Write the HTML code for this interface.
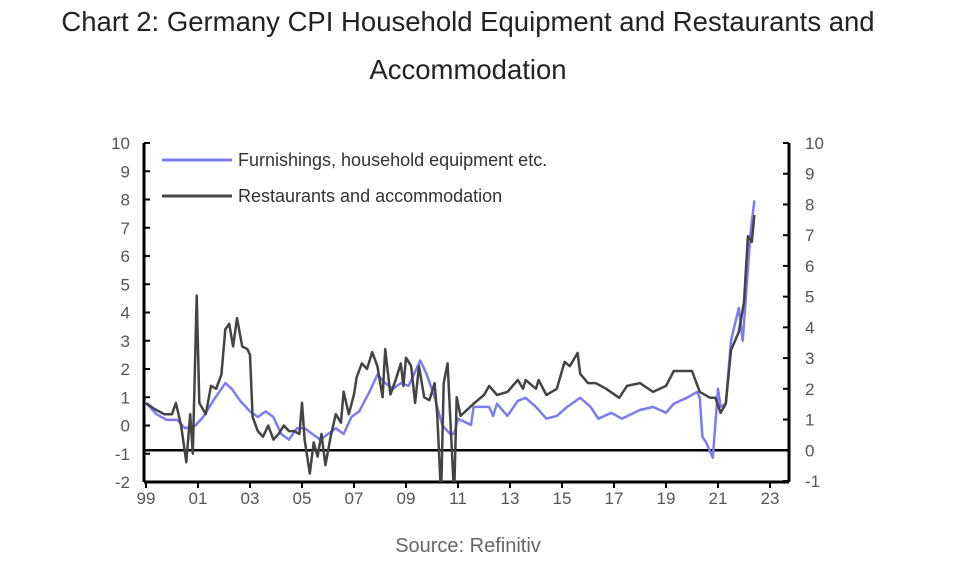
<!DOCTYPE html>
<html><head><meta charset="utf-8"><style>
body{margin:0;background:#fff;width:959px;height:561px;overflow:hidden;font-family:"Liberation Sans",sans-serif}
</style></head><body>
<svg width="959" height="561" xmlns="http://www.w3.org/2000/svg">
<text x="468" y="31" text-anchor="middle" font-size="27.5" fill="#222" font-family="Liberation Sans, sans-serif">Chart 2: Germany CPI Household Equipment and Restaurants and</text>
<text x="468" y="79" text-anchor="middle" font-size="27.5" fill="#222" font-family="Liberation Sans, sans-serif">Accommodation</text>
<g id="axes"></g>
<g id="series"></g>
<g>
<line x1="162" y1="160" x2="232" y2="160" stroke="#7b7bf5" stroke-width="3"/>
<text x="238" y="166" font-size="18" fill="#333">Furnishings, household equipment etc.</text>
<line x1="162" y1="196" x2="232" y2="196" stroke="#444" stroke-width="3"/>
<text x="238" y="202" font-size="18" fill="#333">Restaurants and accommodation</text>
</g>
<text x="468" y="552" text-anchor="middle" font-size="20" fill="#666">Source: Refinitiv</text>
</svg>
<script>
const leftTicks=[-2,-1,0,1,2,3,4,5,6,7,8,9,10];
const rightTicks=[-1,0,1,2,3,4,5,6,7,8,9,10];
const yearLabels=["99","01","03","05","07","09","11","13","15","17","19","21","23"];
const furnDates=[1999.0,1999.4,1999.8,2000.2,2000.5,2000.9,2001.2,2001.6,2001.9,2002.05,2002.3,2002.6,2003.0,2003.3,2003.6,2003.9,2004.2,2004.5,2004.8,2005.1,2005.4,2005.7,2006.0,2006.3,2006.6,2006.9,2007.2,2007.6,2007.9,2008.2,2008.5,2008.8,2009.1,2009.4,2009.55,2009.8,2010.1,2010.4,2010.7,2010.85,2011.0,2011.5,2011.6,2012.2,2012.35,2012.5,2012.9,2013.3,2013.6,2014.0,2014.4,2014.8,2015.2,2015.7,2016.1,2016.4,2016.9,2017.3,2018.0,2018.5,2019.0,2019.3,2019.8,2020.2,2020.3,2020.4,2020.55,2020.8,2021.0,2021.1,2021.3,2021.5,2021.8,2021.95,2022.1,2022.25,2022.4];
const furnValues=[0.8,0.4,0.2,0.2,-0.1,0.0,0.3,0.9,1.3,1.5,1.3,0.9,0.5,0.3,0.5,0.3,-0.3,-0.5,-0.1,-0.1,-0.3,-0.5,-0.3,-0.1,-0.3,0.3,0.5,1.2,1.8,1.5,1.3,1.5,1.4,2.0,2.3,1.8,1.0,0.0,-0.3,-0.29,0.24,0.02,0.66,0.66,0.34,0.77,0.34,0.87,0.98,0.66,0.24,0.34,0.66,0.98,0.66,0.24,0.45,0.24,0.55,0.66,0.45,0.77,0.98,1.19,0.98,-0.4,-0.61,-1.14,1.3,0.66,0.77,3.0,4.16,3.0,4.9,6.8,7.97];
const restDates=[1999.0,1999.3,1999.7,2000.0,2000.15,2000.35,2000.55,2000.7,2000.8,2000.95,2001.05,2001.3,2001.5,2001.7,2001.9,2002.05,2002.2,2002.35,2002.5,2002.7,2002.9,2003.0,2003.1,2003.3,2003.5,2003.7,2003.9,2004.1,2004.3,2004.5,2004.7,2004.9,2005.0,2005.1,2005.3,2005.45,2005.6,2005.75,2005.9,2006.1,2006.3,2006.5,2006.6,2006.8,2007.0,2007.1,2007.3,2007.5,2007.7,2007.9,2008.1,2008.2,2008.4,2008.6,2008.8,2008.9,2009.0,2009.2,2009.35,2009.5,2009.7,2009.9,2010.1,2010.2,2010.35,2010.45,2010.6,2010.85,2010.95,2011.1,2011.6,2012.0,2012.2,2012.5,2012.9,2013.3,2013.5,2013.6,2014.0,2014.1,2014.4,2014.8,2015.1,2015.3,2015.6,2015.7,2016.0,2016.3,2016.7,2017.2,2017.5,2018.0,2018.5,2019.0,2019.3,2020.0,2020.3,2020.7,2020.9,2021.1,2021.3,2021.5,2021.8,2022.0,2022.15,2022.3,2022.4];
const restValues=[0.8,0.6,0.4,0.4,0.8,0.0,-1.3,0.4,-1.0,4.6,0.8,0.4,1.4,1.3,1.8,3.4,3.6,2.8,3.8,2.8,2.7,2.5,0.3,-0.2,-0.4,0.0,-0.5,-0.3,0.0,-0.2,-0.2,-0.3,0.8,-0.5,-1.7,-0.6,-1.1,-0.3,-1.4,-0.4,0.4,0.1,1.2,0.4,1.1,1.7,2.2,2.0,2.6,2.1,1.0,2.7,1.1,1.6,2.2,1.4,2.4,2.1,0.8,2.1,1.0,0.9,1.5,0.4,-2.5,1.5,2.2,-2.5,1.0,0.34,0.77,1.08,1.4,1.08,1.19,1.61,1.3,1.61,1.3,1.61,1.08,1.3,2.25,2.1,2.57,1.83,1.5,1.5,1.3,0.98,1.4,1.5,1.19,1.4,1.93,1.93,1.19,0.98,0.98,0.45,0.77,2.67,3.31,4.37,6.7,6.5,7.45];

const NS="http://www.w3.org/2000/svg";
const X0=144,X1=789,YT=143,YB=482;
const yL=v=>YB-(v+2)*(YB-YT)/12;
const yR=v=>481-(v+1)*(481-YT)/11;
const xY=yr=>146+(yr-1999)*26;
const axes=document.getElementById('axes'),ser=document.getElementById('series');
function mk(tag,at,parent){const e=document.createElementNS(NS,tag);for(const k in at)e.setAttribute(k,at[k]);parent.appendChild(e);return e;}
const defs=mk('defs',{},axes);const cp=mk('clipPath',{id:'plot'},defs);mk('rect',{x:X0,y:YT-10,width:X1-X0,height:YB-YT+10},cp);
let e=mk('line',{x1:X0,y1:YT,x2:X0,y2:YB,stroke:'#000','stroke-width':3},axes);


e=mk('line',{x1:X1,y1:YT,x2:X1,y2:YB,stroke:'#000','stroke-width':3},axes);


e=mk('line',{x1:X0,y1:YB,x2:X1,y2:YB,stroke:'#000','stroke-width':3},axes);


e=mk('line',{x1:X0,y1:yR(0),x2:X1,y2:yR(0),stroke:'#000','stroke-width':2.5},axes);


leftTicks.forEach(v=>{const y=yL(v);mk('line',{x1:X0,y1:y,x2:X0+6,y2:y,stroke:'#000','stroke-width':2},axes);
 const t=mk('text',{x:X0-14,y:y+6,'text-anchor':'end','font-size':17,fill:'#555'},axes);t.textContent=v;
 
 });
rightTicks.forEach(v=>{const y=yR(v);mk('line',{x1:X1-6,y1:y,x2:X1,y2:y,stroke:'#000','stroke-width':2},axes);
 const t=mk('text',{x:X1+16,y:y+6,'text-anchor':'start','font-size':17,fill:'#555'},axes);t.textContent=v;
 
 });
yearLabels.forEach((lab,i)=>{const x=xY(1999+2*i);mk('line',{x1:x,y1:YB,x2:x,y2:YB+6,stroke:'#000','stroke-width':2},axes);
 const t=mk('text',{x:x,y:YB+22,'text-anchor':'middle','font-size':17,fill:'#555'},axes);t.textContent=lab;
 
 });
function line(d,v,col,name){const pts=d.map((yr,i)=>xY(yr).toFixed(1)+','+yL(v[i]).toFixed(1)).join(' ');
 const p=mk('polyline',{points:pts,fill:'none',stroke:col,'stroke-width':2.5,'stroke-linejoin':'round','clip-path':'url(#plot)'},ser);
 
 }
line(furnDates,furnValues,'#7b7bf5','furnishings-line');
line(restDates,restValues,'#444','restaurants-line');
</script>
</body></html>
